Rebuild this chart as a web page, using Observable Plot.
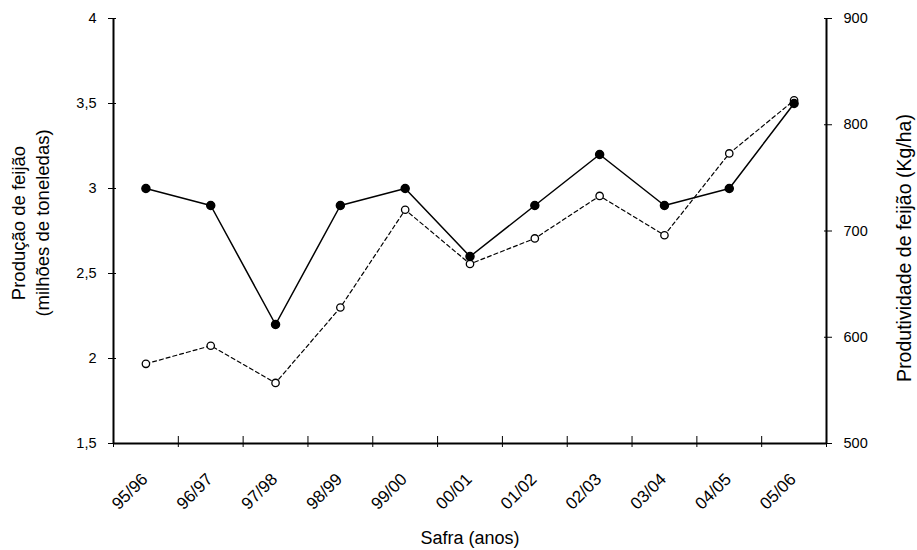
<!DOCTYPE html>
<html>
<head>
<meta charset="utf-8">
<script src="https://cdn.jsdelivr.net/npm/d3@7"></script>
<script src="https://cdn.jsdelivr.net/npm/@observablehq/plot@0.6"></script>
<style>
  html, body { margin: 0; padding: 0; background: #fff; }
</style>
</head>
<body>
<div id="chart"></div>
<script>
// Safras (crop years)
const safras = ["95/96", "96/97", "97/98", "98/99", "99/00", "00/01", "01/02", "02/03", "03/04", "04/05", "05/06"];
// Produção de feijão, milhões de toneladas (left axis)
const producao = [3.0, 2.9, 2.2, 2.9, 3.0, 2.6, 2.9, 3.2, 2.9, 3.0, 3.5];
// Produtividade de feijão, Kg/ha (right axis)
const produtividade = [575, 592, 557, 628, 720, 669, 693, 733, 696, 773, 823];
// Axis ticks
const ticksProducao = [1.5, 2, 2.5, 3, 3.5, 4];
const ticksProdutividade = [500, 600, 700, 800, 900];

// The right axis is mapped onto the left axis' domain
const toLeft = d3.scaleLinear([500, 900], [1.5, 4]);

const data = safras.map((s, i) => ({
  safra: s,
  pos: i + 0.5,
  producao: producao[i],
  produtividade: toLeft(produtividade[i])
}));

const font = "'Liberation Sans', Arial, Helvetica, sans-serif";
const edges = d3.range(safras.length + 1);

const chart = Plot.plot({
  width: 917,
  height: 550,
  marginLeft: 113,
  marginRight: 91,
  marginTop: 18,
  marginBottom: 107,
  style: { fontFamily: font, fontSize: "14.5px", color: "black", background: "white" },
  x: { domain: [0, safras.length], axis: null },
  y: { domain: [1.5, 4], axis: null },
  marks: [
    // left axis (ticks cross the axis line)
    Plot.axisY(ticksProducao, {
      anchor: "left", tickSize: 5, tickPadding: 12, label: null,
      tickFormat: d => String(d).replace(".", ","), fontSize: 14.5
    }),
    Plot.axisY(ticksProducao, { anchor: "left", tickSize: -3, tickFormat: () => "", label: null }),
    // right axis
    Plot.axisY(ticksProdutividade.map(toLeft), {
      anchor: "right", tickSize: 5, tickPadding: 12, label: null,
      tickFormat: d => String(Math.round(toLeft.invert(d))), fontSize: 14.5
    }),
    Plot.axisY(ticksProdutividade.map(toLeft), { anchor: "right", tickSize: -3, tickFormat: () => "", label: null }),
    // category separators on the x axis
    Plot.axisX(edges, { anchor: "bottom", tickSize: 4, tickFormat: () => "", label: null }),
    Plot.axisX(edges, { anchor: "bottom", tickSize: -7, tickFormat: () => "", label: null }),
    // category labels
    Plot.axisX(data.map(d => d.pos), {
      anchor: "bottom", tickSize: 0, tickPadding: 33, tickRotate: -45, label: null, dx: -1,
      tickFormat: p => safras[Math.round(p - 0.5)], fontSize: 17
    }),
    // axis lines
    Plot.ruleX([0], { strokeWidth: 2 }),
    Plot.ruleX([safras.length], { strokeWidth: 2 }),
    Plot.ruleY([1.5], { strokeWidth: 2 }),
    // series
    Plot.line(data, { x: "pos", y: "produtividade", stroke: "black", strokeWidth: 1.2, strokeDasharray: "4,3" }),
    Plot.line(data, { x: "pos", y: "producao", stroke: "black", strokeWidth: 1.5 }),
    Plot.dot(data, { x: "pos", y: "produtividade", r: 3.7, fill: "white", stroke: "black", strokeWidth: 1.3 }),
    Plot.dot(data, { x: "pos", y: "producao", r: 4, fill: "black", stroke: "black" }),
    // axis titles
    Plot.text(["Produção de feijão\n(milhões de toneledas)"], {
      frameAnchor: "left", textAnchor: "middle", lineAnchor: "middle",
      dx: -84, dy: -8, rotate: -90, fontSize: 18.5, lineHeight: 1.27, fill: "black"
    }),
    Plot.text(["Produtividade de feijão (Kg/ha)"], {
      frameAnchor: "right", textAnchor: "middle", lineAnchor: "middle",
      dx: 78, dy: 17, rotate: -90, fontSize: 19.5, fill: "black"
    }),
    Plot.text(["Safra (anos)"], {
      frameAnchor: "bottom", textAnchor: "middle", lineAnchor: "middle",
      dx: 0, dy: 95, fontSize: 18, fill: "black"
    })
  ]
});

document.getElementById("chart").append(chart);
</script>
</body>
</html>
